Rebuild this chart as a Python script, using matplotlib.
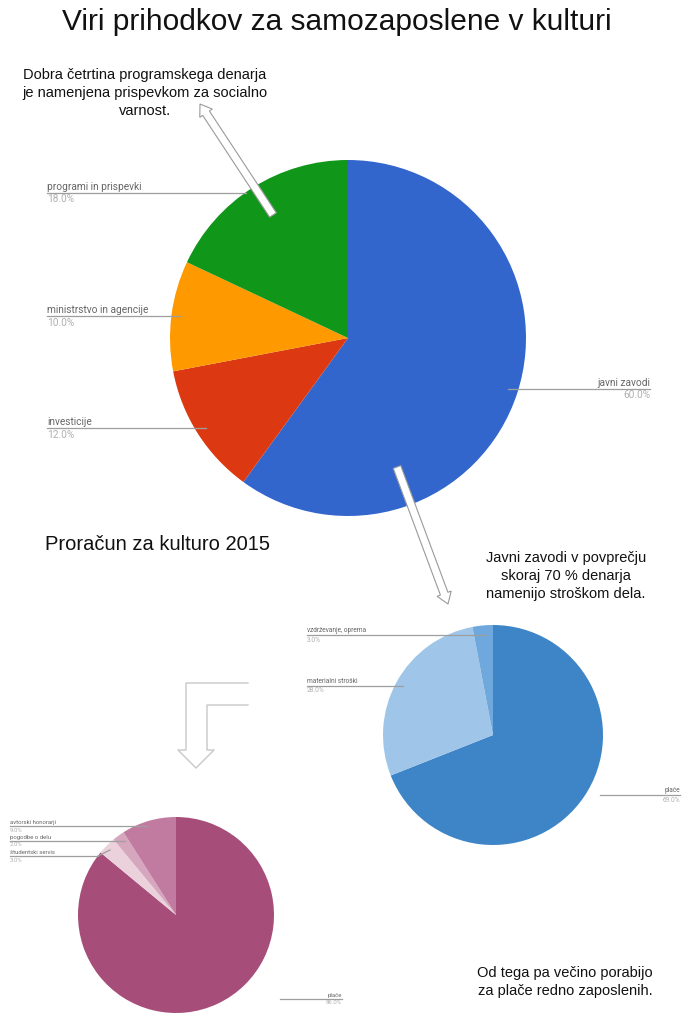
import matplotlib
matplotlib.use("Agg")
import matplotlib.pyplot as plt
from matplotlib.patches import Polygon
import numpy as np

W, H = 692, 1024

# pie 1: Proračun za kulturo 2015
p1_labels = ["javni zavodi", "investicije", "ministrstvo in agencije", "programi in prispevki"]
p1_values = [60.0, 12.0, 10.0, 18.0]
p1_colors = ["#3366cc", "#dc3912", "#ff9900", "#109618"]

# pie 2: javni zavodi
p2_labels = ["plače", "materialni stroški", "vzdrževanje, oprema"]
p2_values = [69.0, 28.0, 3.0]
p2_colors = ["#3d85c6", "#9fc5e8", "#6fa8dc"]

# pie 3: samozaposleni
p3_labels = ["plače", "študentski servis", "pogodbe o delu", "avtorski honorarji"]
p3_values = [86.0, 3.0, 2.0, 9.0]
p3_colors = ["#a64d79", "#ead1dc", "#d5a6bd", "#c27ba0"]

FONT = "Liberation Sans"
plt.rcParams["font.family"] = [FONT, "DejaVu Sans"]


def Y(y):
    return H - y


fig = plt.figure(figsize=(W / 100, H / 100), dpi=100)
ax = fig.add_axes([0, 0, 1, 1])


def pie(values, colors, cx, cy, r):
    ax.pie(values, colors=colors, center=(cx, Y(cy)), radius=r, startangle=90,
           counterclock=False, wedgeprops=dict(linewidth=0))


pie(p1_values, p1_colors, 348, 338, 178)
pie(p2_values, p2_colors, 493, 735, 110)
pie(p3_values, p3_colors, 176, 915, 98)


def label(text, pct, x0, x1, y, fs, right=False):
    ax.plot([x0, x1], [Y(y), Y(y)], color="#9e9e9e", lw=0.9)
    tx = x1 if right else x0
    ha = "right" if right else "left"
    ax.text(tx, Y(y) + 1, text, fontsize=fs, color="#666666", ha=ha, va="bottom",
            family="Roboto")
    ax.text(tx, Y(y) - 1.5, pct, fontsize=fs, color="#b0b0b0", ha=ha, va="top",
            family="Roboto")


def fmt(v):
    return f"{v:.1f}%"


# pie 1 labels
label(p1_labels[3], fmt(p1_values[3]), 47, 246, 193, 7.3)
label(p1_labels[2], fmt(p1_values[2]), 47, 180, 316, 7.3)
label(p1_labels[1], fmt(p1_values[1]), 47, 206, 428, 7.3)
label(p1_labels[0], fmt(p1_values[0]), 508, 650, 389, 7.3, right=True)

# pie 2 labels
label(p2_labels[2], fmt(p2_values[2]), 307, 486, 635, 4.7)
label(p2_labels[1], fmt(p2_values[1]), 307, 403, 686, 4.7)
label(p2_labels[0], fmt(p2_values[0]), 600, 680, 795, 4.7, right=True)

# pie 3 labels
label(p3_labels[3], fmt(p3_values[3]), 10, 147, 826, 4.3)
label(p3_labels[2], fmt(p3_values[2]), 10, 125, 841, 4.3)
label(p3_labels[1], fmt(p3_values[1]), 10, 98, 856, 4.3)
ax.plot([98, 110], [Y(856), Y(850)], color="#9e9e9e", lw=0.9)
label(p3_labels[0], fmt(p3_values[0]), 280, 342, 999, 4.3, right=True)

# texts
ax.text(337, Y(22), "Viri prihodkov za samozaposlene v kulturi", fontsize=21.5,
        ha="center", va="center", color="#111111")
ax.text(145, Y(93), "Dobra četrtina programskega denarja\nje namenjena prispevkom za socialno\nvarnost.",
        fontsize=10.5, ha="center", va="center", color="#111111", linespacing=1.4)
ax.text(45, Y(545), "Proračun za kulturo 2015", fontsize=14.5, ha="left", va="center",
        color="#111111")
ax.text(566, Y(576), "Javni zavodi v povprečju\nskoraj 70 % denarja\nnamenijo stroškom dela.",
        fontsize=10.5, ha="center", va="center", color="#111111", linespacing=1.4)
ax.text(565, Y(982), "Od tega pa večino porabijo\nza plače redno zaposlenih.",
        fontsize=10.5, ha="center", va="center", color="#111111", linespacing=1.4)


def hollow_arrow(x0, y0, x1, y1, w=8, hw=15, hl=11):
    p0 = np.array([x0, Y(y0)], float)
    p1 = np.array([x1, Y(y1)], float)
    d = p1 - p0
    u = d / np.hypot(*d)
    n = np.array([-u[1], u[0]])
    b = p1 - u * hl
    pts = [p0 + n * w / 2, b + n * w / 2, b + n * hw / 2, p1,
           b - n * hw / 2, b - n * w / 2, p0 - n * w / 2]
    ax.add_patch(Polygon(pts, closed=True, facecolor="white", edgecolor="#9a9a9a",
                         lw=0.8, zorder=5))


hollow_arrow(273, 215, 200, 104)
hollow_arrow(397, 467, 448, 604)

# L-shaped arrow
L_pts = [(248, 683), (186, 683), (186, 750), (178, 750), (196, 768), (214, 750),
         (207, 750), (207, 705), (248, 705)]
ax.add_line(plt.Line2D([p[0] for p in L_pts], [Y(p[1]) for p in L_pts],
                       color="#c8c8c8", lw=1.0))

ax.set_xlim(0, W)
ax.set_ylim(0, H)
ax.set_aspect("auto")
ax.axis("off")
fig.savefig("out.png", dpi=100, facecolor="white")
